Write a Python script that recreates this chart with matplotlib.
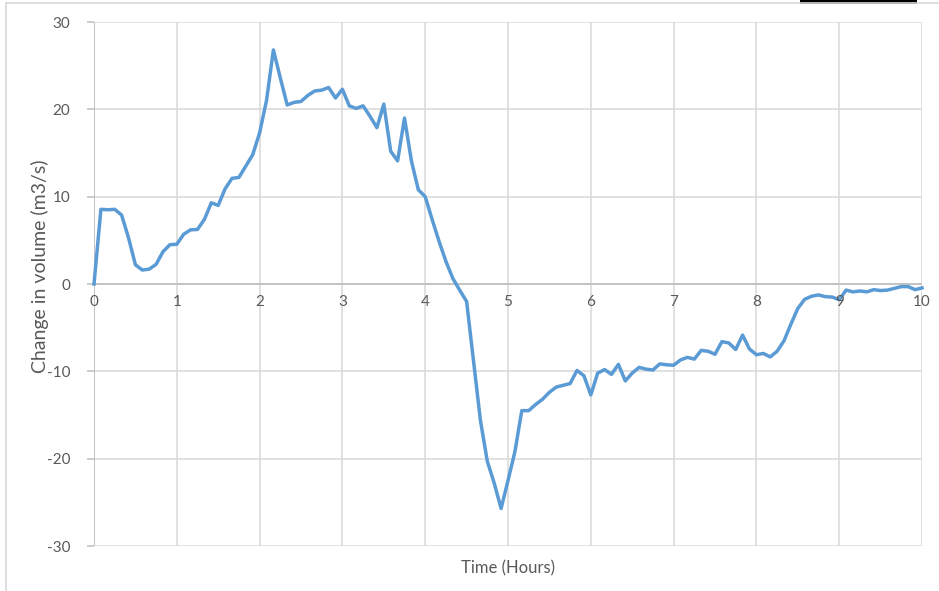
import numpy as np
import matplotlib
matplotlib.use("Agg")
import matplotlib.pyplot as plt
from matplotlib.patches import Rectangle

# 5-minute readings over 10 hours
time_hours = np.arange(121) / 12.0
volume_change = [
    0.0, 8.55, 8.5, 8.55, 7.9, 5.3, 2.2, 1.6, 1.7, 2.25,
    3.7, 4.5, 4.55, 5.7, 6.2, 6.25, 7.4, 9.3, 9.0, 10.9,
    12.1, 12.2, 13.5, 14.8, 17.3, 21.0, 26.8, 23.6, 20.5, 20.8,
    20.9, 21.6, 22.1, 22.2, 22.5, 21.3, 22.3, 20.4, 20.1, 20.4,
    19.2, 17.9, 20.6, 15.2, 14.1, 19.0, 14.1, 10.8, 10.0, 7.4,
    4.9, 2.6, 0.65, -0.7, -2.0, -8.8, -15.6, -20.3, -22.8, -25.7,
    -22.5, -19.2, -14.5, -14.5, -13.8, -13.2, -12.4, -11.8, -11.6, -11.4,
    -9.9, -10.5, -12.7, -10.2, -9.8, -10.35, -9.2, -11.1, -10.2, -9.55,
    -9.75, -9.85, -9.15, -9.25, -9.3, -8.7, -8.4, -8.6, -7.6, -7.7,
    -8.05, -6.6, -6.75, -7.5, -5.85, -7.45, -8.1, -7.95, -8.35, -7.7,
    -6.5, -4.6, -2.8, -1.75, -1.4, -1.25, -1.45, -1.5, -1.8, -0.7,
    -0.9, -0.8, -0.9, -0.65, -0.75, -0.7, -0.5, -0.3, -0.3, -0.65,
    -0.45,
]
x_ticks = list(range(0, 11))
y_ticks = [-30, -20, -10, 0, 10, 20, 30]

plt.rcParams['font.family'] = ['Lato', 'DejaVu Sans']
plt.rcParams['axes.unicode_minus'] = False
text_color = '#595959'
grid_color = '#d9d9d9'
axis_color = '#bfbfbf'

fig = plt.figure(figsize=(9.39, 5.91), dpi=100)
W, H = 939, 591
ax = fig.add_axes([94 / W, 1 - 546 / H, (922 - 94) / W, (546 - 22) / H])

ax.plot(time_hours, volume_change, color='#5b9bd5', lw=2.5, zorder=3,
        solid_joinstyle='round', clip_on=False)

ax.set_xlim(0, 10)
ax.set_ylim(-30, 30)
ax.set_xticks(x_ticks)
ax.set_yticks(y_ticks)
ax.grid(True, color=grid_color, lw=1.1)
ax.set_axisbelow(True)
for s in ax.spines.values():
    s.set_visible(False)

# horizontal axis sits on zero, labels just below it
ax.axhline(0, color=axis_color, lw=1.2, zorder=2)
ax.axvline(0, color=axis_color, lw=1.2, zorder=2)
ax.tick_params(axis='x', length=0, labelbottom=False)
ax.tick_params(axis='y', length=5, width=1.1, color=axis_color,
               labelcolor=text_color, labelsize=11, pad=12)
for t in x_ticks:
    ax.text(t, -1.3, str(t), ha='center', va='top', fontsize=11,
            color=text_color)

ax.set_xlabel('Time (Hours)', fontsize=12, color=text_color, labelpad=10)
fig.text(40 / W, 1 - 266 / H, 'Change in volume (m3/s)', rotation=90,
         ha='center', va='center', fontsize=14, color=text_color)

# chart frame and the dark strip along the top edge
fig.add_artist(plt.Line2D([6 / W, 6 / W], [0, 1 - 3 / H], color=grid_color,
                          lw=1.2, transform=fig.transFigure))
fig.add_artist(plt.Line2D([6 / W, 1], [1 - 3 / H, 1 - 3 / H], color=grid_color,
                          lw=1.2, transform=fig.transFigure))
fig.add_artist(Rectangle((800 / W, 1 - 4 / H), 117 / W, 4 / H,
                         transform=fig.transFigure, color='black', lw=0))

fig.savefig('out.png', dpi=100)
